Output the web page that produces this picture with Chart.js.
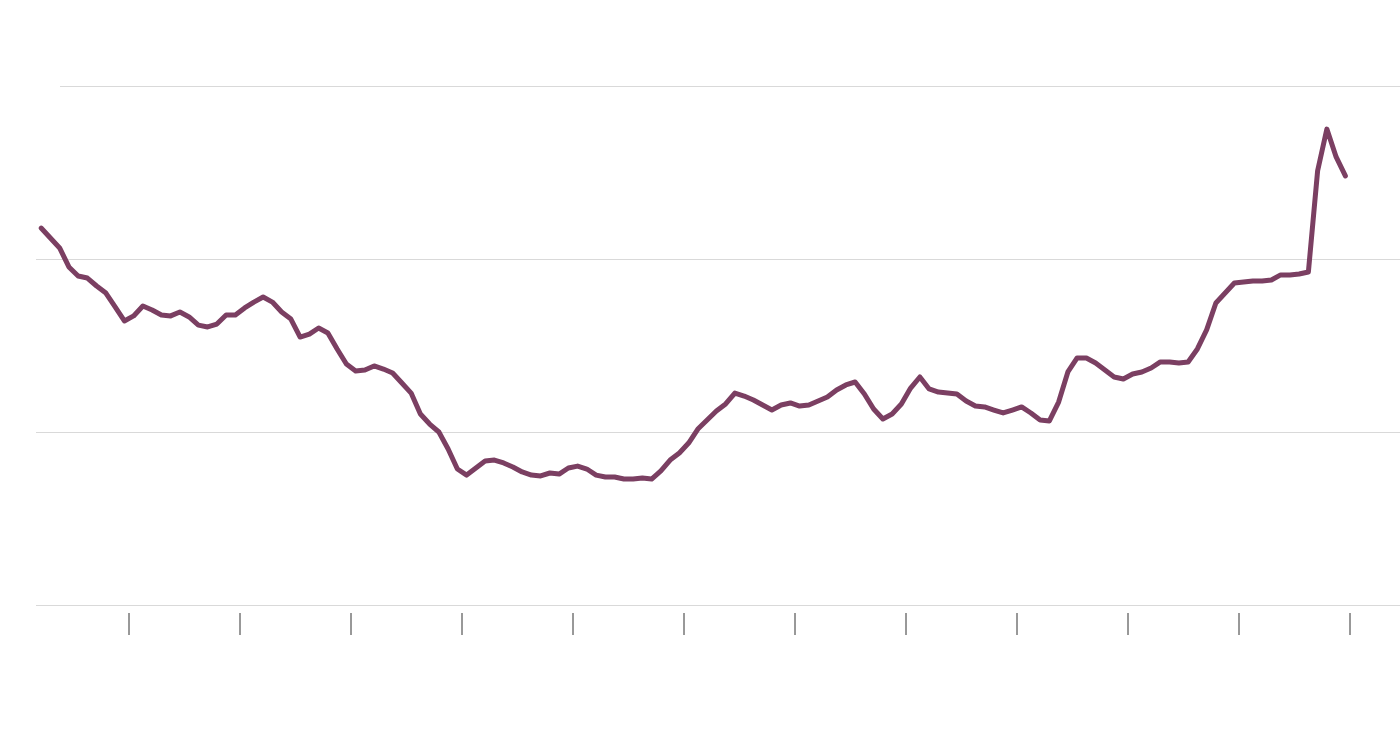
<!DOCTYPE html>
<html>
<head>
<meta charset="utf-8">
<script src="https://cdn.jsdelivr.net/npm/chart.js@4"></script>
<style>
    html, body { margin: 0; padding: 0; background: #ffffff; }
    #wrap { width: 1400px; height: 738px; }
</style>
</head>
<body>
<div id="wrap"><canvas id="lineChart" width="1400" height="738"></canvas></div>
<script>
// monthly values, first point is March of the first year (index 0)
const firstPartialYear = [217.9, 212.1, 206.4, 195.4, 190.2, 189.0, 184.4, 180.3, 172.3, 164.2];
const yearValues = [
    [167.1, 172.8, 170.5, 167.6, 167.1, 169.4, 166.5, 161.8, 160.7, 162.4, 167.6, 167.6],
    [171.7, 175.1, 178.0, 175.1, 169.4, 165.3, 154.9, 156.6, 160.1, 157.2, 148.0, 139.3],
    [135.3, 135.8, 138.2, 136.4, 134.1, 128.3, 122.5, 110.4, 104.6, 100.0, 90.2, 78.6],
    [75.1, 79.2, 83.2, 83.8, 82.1, 79.8, 76.9, 75.1, 74.6, 76.3, 75.7, 79.2],
    [80.3, 78.6, 75.1, 74.0, 74.0, 72.8, 72.8, 73.4, 72.8, 77.5, 83.8, 87.9],
    [93.6, 101.7, 106.9, 112.1, 116.2, 122.5, 120.8, 118.5, 115.6, 112.7, 115.6, 116.8],
    [115.0, 115.6, 117.9, 120.2, 124.3, 127.2, 128.9, 122.0, 113.3, 107.5, 110.4, 116.2],
    [125.4, 131.8, 124.9, 123.1, 122.5, 122.0, 117.9, 115.0, 114.5, 112.7, 111.0, 112.7],
    [114.5, 111.0, 106.9, 106.4, 117.3, 134.7, 142.8, 142.8, 139.9, 135.8, 131.8, 130.6],
    [133.5, 134.7, 137.0, 140.5, 140.5, 139.9, 140.5, 148.0, 159.0, 174.6, 180.3, 186.1],
    [186.7, 187.3, 187.3, 187.9, 190.8, 190.8, 191.3, 192.5, 251.0, 275.1, 259.0, 248.0]
];
// year boundaries, in month index units
const yearTicks = [9.5, 21.5, 33.5, 45.5, 57.5, 69.5, 81.5, 93.5, 105.5, 117.5, 129.5, 141.5];
const yGridValues = [0, 100, 200, 300];

const lineColor = '#7b3f62';
const gridColor = '#d9d9d9';
const tickColor = '#333333';

const values = firstPartialYear.concat(...yearValues);
const points = values.map((v, i) => ({ x: i, y: v }));

const gridPlugin = {
    id: 'gridPlugin',
    beforeDatasetsDraw(chart) {
        const ctx = chart.ctx;
        const area = chart.chartArea;
        const yScale = chart.scales.y;
        ctx.save();
        ctx.strokeStyle = gridColor;
        ctx.lineWidth = 1;
        yGridValues.forEach(v => {
            const py = Math.round(yScale.getPixelForValue(v)) + 0.5;
            const startX = v === yGridValues[yGridValues.length - 1] ? area.left + 24 : area.left;
            ctx.beginPath();
            ctx.moveTo(startX, py);
            ctx.lineTo(area.right, py);
            ctx.stroke();
        });
        ctx.restore();
    },
    afterDraw(chart) {
        const ctx = chart.ctx;
        const area = chart.chartArea;
        const xScale = chart.scales.x;
        ctx.save();
        ctx.strokeStyle = tickColor;
        ctx.lineWidth = 1;
        yearTicks.forEach(t => {
            const px = xScale.getPixelForValue(t);
            ctx.beginPath();
            ctx.moveTo(px, area.bottom + 8);
            ctx.lineTo(px, area.bottom + 30);
            ctx.stroke();
        });
        ctx.restore();
    }
};

const ctx = document.getElementById('lineChart').getContext('2d');
new Chart(ctx, {
    type: 'line',
    data: {
        datasets: [{
            data: points,
            borderColor: lineColor,
            borderWidth: 5,
            borderJoinStyle: 'round',
            borderCapStyle: 'round',
            pointRadius: 0,
            tension: 0,
            fill: false
        }]
    },
    options: {
        responsive: false,
        animation: false,
        layout: { padding: { left: 36, right: 0, top: 86, bottom: 133 } },
        scales: {
            x: { type: 'linear', min: -0.5541, max: 146.9054, display: false },
            y: { min: 0, max: 300, display: false }
        },
        plugins: {
            legend: { display: false },
            tooltip: { enabled: false }
        }
    },
    plugins: [gridPlugin]
});
</script>
</body>
</html>
